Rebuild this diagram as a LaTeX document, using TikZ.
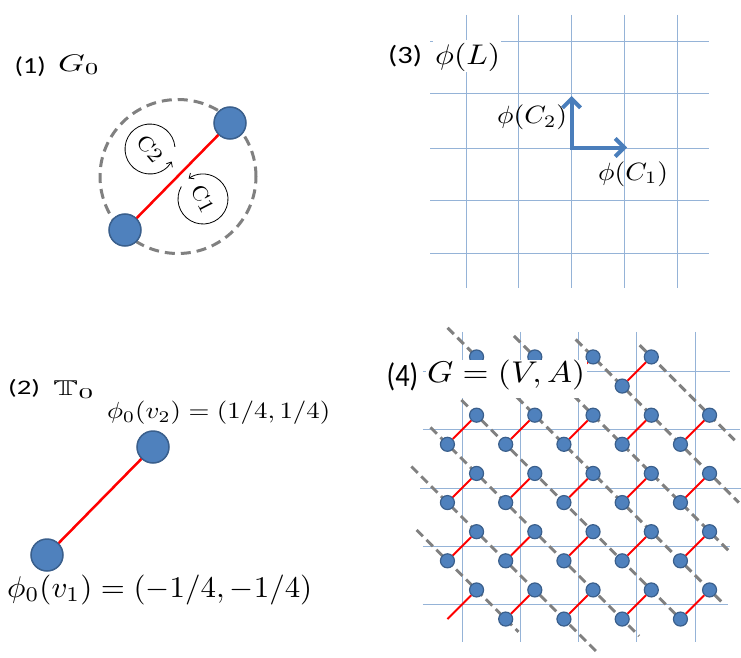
\RequirePackage{fix-cm}
\documentclass[tikz,border=0pt]{standalone}
\usepackage{amssymb}
\usepackage{fontspec}
\usepackage{graphicx}
\usetikzlibrary{arrows.meta}
\newfontfamily\calib{Carlito}
\definecolor{nodeblue}{HTML}{4F81BD}
\definecolor{nodeedge}{HTML}{3A5F8C}
\definecolor{gridblue}{HTML}{95B3D7}
\definecolor{arrowblue}{HTML}{4A7EBB}
\definecolor{dashgray}{HTML}{808080}
\newcommand{\rb}[3]{\resizebox*{#1}{#2}{#3}}
\pgfdeclarelayer{bg}
\pgfsetlayers{bg,main}
\tikzset{
  bigvtx/.style={circle, fill=nodeblue, draw=nodeedge, line width=1.5pt, minimum size=32pt, inner sep=0pt},
  smallvtx/.style={circle, fill=nodeblue, draw=nodeedge, line width=1.2pt, minimum size=14pt, inner sep=0pt},
  redge/.style={draw=red, line width=2.5pt},
  sredge/.style={draw=red, line width=2pt},
  dedge/.style={draw=dashgray, line width=3pt, dash pattern=on 9pt off 5pt},
  gridline/.style={draw=gridblue, line width=1pt},
  cyc/.style={draw=black, line width=0.8pt, -{Straight Barb[length=4pt,width=7pt]}},
  vec/.style={draw=arrowblue, line width=4pt, line join=miter, {Straight Barb[length=9pt,width=18pt]}-{Straight Barb[length=9pt,width=18pt]}},
  lbl/.style={inner sep=0pt, anchor=south west},
}
\begin{document}
\begin{tikzpicture}[x=1pt,y=-1pt]
\useasboundingbox (0,0) rectangle (741,658);
\begin{pgfonlayer}{bg}
\fill[white] (0,0) rectangle (741,658);
\end{pgfonlayer}

% ---------------- panel 1
\node[lbl] (t1a) at (14.5,76.7) {\rb{31pt}{20pt}{\calib (1)}};
\node[lbl] (t1b) at (58,75) {\rb{42pt}{20pt}{$G_0$}};
\begin{pgfonlayer}{bg}
\draw[dedge, dash pattern=on 10pt off 6pt] (178,176.5) ellipse [x radius=78pt, y radius=77pt];
\end{pgfonlayer}
\node[bigvtx] (a1) at (125,230) {};
\node[bigvtx] (a2) at (230,123) {};
\draw[redge] (a1) -- (a2);
\coordinate (c2c) at (150,149);
\coordinate (c1c) at (203,199);
\draw[cyc] (c2c) ++(5:25pt) arc[start angle=5, end angle=330, radius=25pt];
\draw[cyc] (c1c) ++(150:25pt) arc[start angle=150, end angle=485, radius=25pt];
\node[rotate=-50, inner sep=0pt] (c2t) at (c2c) {\rb{28pt}{15.5pt}{C2}};
\node[rotate=-63, inner sep=0pt] (c1t) at (c1c) {\rb{28pt}{15.5pt}{C1}};

% ---------------- panel 2
\node[lbl] (t2a) at (8,398) {\rb{32pt}{18pt}{\calib (2)}};
\node[lbl] (t2b) at (53,399) {\rb{42pt}{18pt}{$\mathbb{T}_0$}};
\node[bigvtx] (b1) at (47,555) {};
\node[bigvtx] (b2) at (153,447) {};
\draw[redge] (b1) -- (b2);
\node[lbl] (pv2) at (107,425) {\rb{223pt}{23.3pt}{$\phi_0(v_2)=(1/4,1/4)$}};
\node[lbl] (pv1) at (7,605) {\rb{305pt}{30pt}{$\phi_0(v_1)=(-1/4,-1/4)$}};

% ---------------- panel 3
\foreach \gx in {466,518,571,624,677} \draw[gridline] (\gx,15) -- (\gx,288);
\foreach \gy in {42,94,148,200,253} \draw[gridline] (430,\gy) -- (709,\gy);
\coordinate (o) at (571.5,147.5);
\coordinate (e1) at (627,147.5);
\coordinate (e2) at (571.5,96);
\draw[vec] (e2) -- (o) -- (e1);
\node[lbl] (pc2) at (497,130) {\rb{70pt}{25pt}{$\phi(C_2)$}};
\node[lbl] (pc1) at (598,186.7) {\rb{70pt}{25pt}{$\phi(C_1)$}};
\node[lbl] (t3a) at (388,66.7) {\rb{34pt}{21.7pt}{\calib (3)}};
\fill[white] (433,40.5) rectangle (501,72);
\node[lbl] (t3b) at (435,71.7) {\rb{65pt}{28.4pt}{$\phi(L)$}};

% ---------------- panel 4
\begin{scope}[shift={(462,371.5)}, x=58.25pt, y=-58.25pt]
  \begin{pgfonlayer}{bg}
  \foreach \u in {0,...,4} \draw[gridline] (\u,-0.68) -- (\u,4.65);
  \foreach \r/\a/\b in {0/-0.67/4.6, 1/-0.67/4.77, 2/-0.72/4.8, 3/-0.67/4.6, 4/-0.67/4.57}
    \draw[gridline] (\a,\r) -- (\b,\r);
  \end{pgfonlayer}
  \foreach \c/\r in {1/0,2/0,3/0,4/0,1/1,2/1,3/1,4/1,5/1,1/2,2/2,3/2,4/2,5/2,1/3,2/3,3/3,4/3,5/3,2/4,3/4,4/4,5/4}
    \node[smallvtx] (l\c\r) at ({\c-1.25},{\r+0.25}) {};
  \coordinate (l14) at (-0.25,4.25);
  \foreach \c/\r in {1/0,2/0,3/0,4/0,1/1,2/1,3/1,4/1,5/1,1/2,2/2,3/2,4/2,5/2,1/3,2/3,3/3,4/3,5/3,1/4,2/4,3/4,4/4,5/4}
    \node[smallvtx] (u\c\r) at ({\c-0.75},{\r-0.25}) {};
  \foreach \c/\r in {1/0,2/0,3/0,4/0,1/1,2/1,3/1,4/1,5/1,1/2,2/2,3/2,4/2,5/2,1/3,2/3,3/3,4/3,5/3,1/4,2/4,3/4,4/4,5/4}
    \draw[sredge] (l\c\r) -- (u\c\r);
  % dashed diagonals
  \coordinate (s1) at (-0.25,-0.75);  \coordinate (f1) at (4.45,3.95);
  \coordinate (s2) at (0.89,-0.61);   \coordinate (f2) at (4.61,3.11);
  \coordinate (s3) at (1.95,-0.55);   \coordinate (f3) at (4.75,2.25);
  \coordinate (s4) at (3.05,-0.45);   \coordinate (f4) at (4.68,1.18);
  \coordinate (s0) at (-0.35,0.15);   \coordinate (f0) at (3.87,4.37);
  \coordinate (sm1) at (-0.54,0.96);  \coordinate (fm1) at (3.04,4.54);
  \coordinate (sm2) at (-0.87,1.63);  \coordinate (fm2) at (2.35,4.85);
  \coordinate (sm3) at (-0.78,2.72);  \coordinate (fm3) at (0.97,4.47);
  \begin{pgfonlayer}{bg}
  \foreach \k in {1,2,3,4,0,m1,m2,m3} \draw[dedge] (s\k) -- (f\k);
  \end{pgfonlayer}
\end{scope}
\node[lbl] (t4a) at (386.5,391.7) {\rb{31.6pt}{28.4pt}{\calib (4)}};
\fill[white] (426,360) rectangle (587,398);
\node[lbl] (t4b) at (427,390) {\rb{158pt}{30pt}{$G=(V,A)$}};
\end{tikzpicture}
\end{document}
